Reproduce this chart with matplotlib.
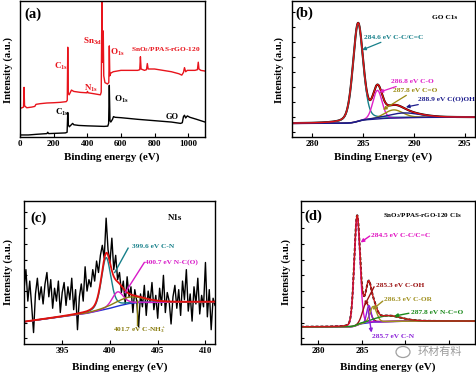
import numpy as np
import matplotlib
matplotlib.use('Agg')
import matplotlib.pyplot as plt
from matplotlib.patches import Ellipse, Rectangle

plt.rcParams['font.family'] = ['Liberation Serif', 'DejaVu Serif']
plt.rcParams['font.weight'] = 'bold'
plt.rcParams['mathtext.default'] = 'regular'

# ---------------- data ----------------
# (a) survey spectra (binding energy, normalized intensity)
a_red_x = [0, 12, 21, 24, 27, 40, 70, 88, 95, 120, 160, 200, 240, 275, 281, 284, 287, 292, 300, 306, 320, 360,
           398, 401, 405, 440, 478, 483, 487, 489, 492, 495, 498, 505, 520, 528, 531, 534, 540, 555, 600, 650,
           700, 712, 716, 720, 740, 752, 757, 762, 800, 850, 900, 945, 962, 972, 978, 985, 995, 1010, 1040,
           1055, 1060, 1064, 1075, 1100]
a_red_y = [0.21, 0.215, 0.22, 0.365, 0.23, 0.215, 0.22, 0.225, 0.24, 0.245, 0.25, 0.252, 0.255, 0.26, 0.27, 0.66,
           0.32, 0.31, 0.33, 0.345, 0.335, 0.328, 0.325, 0.335, 0.325, 0.318, 0.31, 0.33, 1.0, 0.6, 0.55, 0.78,
           0.45, 0.40, 0.39, 0.40, 0.67, 0.45, 0.47, 0.48, 0.49, 0.49, 0.49, 0.495, 0.59, 0.50, 0.49, 0.495,
           0.54, 0.50, 0.50, 0.49, 0.48, 0.465, 0.455, 0.475, 0.51, 0.48, 0.49, 0.49, 0.49, 0.495, 0.55, 0.50,
           0.49, 0.485]
a_blk_x = [0, 50, 100, 160, 165, 170, 230, 270, 280, 284, 287, 293, 305, 313, 320, 350, 400, 450, 500, 522, 527,
           531, 535, 540, 550, 556, 565, 600, 700, 800, 900, 955, 965, 972, 978, 985, 995, 1010, 1050, 1100]
a_blk_y = [0.015, 0.015, 0.02, 0.025, 0.035, 0.025, 0.028, 0.03, 0.035, 0.18, 0.09, 0.075, 0.09, 0.10, 0.09,
           0.085, 0.082, 0.08, 0.078, 0.08, 0.10, 0.38, 0.12, 0.11, 0.13, 0.15, 0.145, 0.142, 0.13, 0.12, 0.11,
           0.10, 0.105, 0.15, 0.16, 0.14, 0.155, 0.145, 0.13, 0.11]
a_ticks = [0, 200, 400, 600, 800, 1000]

# (b) GO C1s fit components
b_labels = ['284.6 eV C-C/C=C', '286.8 eV C-O', '287.8 eV C=O', '288.9 eV C(O)OH']
b_centers = [284.5, 286.4, 288.0, 289.0]
b_heights = [0.72, 0.21, 0.06, 0.035]
b_sigmas = [0.50, 0.45, 0.90, 1.60]
b_eta = [0.3, 0.1, 0.2, 0.2]
b_base = [0.10, 0.145]
b_ticks = [280, 285, 290, 295]

# (c) N1s raw data and fit
c_x0, c_step = 391.0, 0.2
c_raw = [0.38, 0.52, 0.30, 0.44, 0.27, 0.08, 0.35, 0.46, 0.31, 0.40,
         0.28, 0.42, 0.50, 0.33, 0.45, 0.25, 0.39, 0.30, 0.44, 0.22,
         0.36, 0.43, 0.27, 0.40, 0.31, 0.46, 0.24, 0.38, 0.10, 0.33,
         0.42, 0.30, 0.54, 0.37, 0.45, 0.40, 0.52, 0.44, 0.58, 0.50,
         0.62, 0.69, 0.60, 0.88, 0.66, 0.57, 0.74, 0.52, 0.62, 0.45,
         0.50, 0.36, 0.44, 0.28, 0.47, 0.33, 0.40, 0.22, 0.38, 0.30,
         0.12, 0.35, 0.26, 0.41, 0.20, 0.37, 0.29, 0.43, 0.24, 0.34,
         0.18, 0.39, 0.27, 0.48, 0.22, 0.36, 0.30, 0.14, 0.33, 0.41,
         0.25, 0.38, 0.20, 0.44, 0.31, 0.52, 0.23, 0.35, 0.16, 0.40,
         0.28, 0.46, 0.21, 0.34, 0.26, 0.57, 0.19, 0.38, 0.10, 0.32, 0.27]
c_labels = ['399.6 eV C-N', '400.7 eV N-C(O)', '401.7 eV C-NH$_3^+$']
c_centers = [399.6, 400.8, 402.0]
c_heights = [0.36, 0.10, 0.045]
c_sigmas = [0.50, 0.60, 1.60]
c_eta = [0.35, 0.3, 0.4]
# baseline anchors
c_base_x = [391, 397.6, 399, 400, 401, 402, 403, 411]
c_base_y = [0.155, 0.215, 0.235, 0.25, 0.268, 0.283, 0.29, 0.295]
c_ticks = [395, 400, 405, 410]

# (d) SnO2/PPAS-rGO-120 C1s fit
d_labels = ['284.5 eV C-C/C=C', '285.3 eV C-OH', '285.7 eV C-N', '286.3 eV C-OR', '287.8 eV N-C=O']
d_centers = [284.45, 285.5, 285.8, 286.3, 288.0]
d_heights = [0.755, 0.14, 0.12, 0.11, 0.04]
d_sigmas = [0.33, 0.42, 0.25, 0.38, 1.50]
d_eta = [0.1, 0.1, 0.0, 0.1, 0.3]
d_base = [0.12, 0.16]
d_ticks = [280, 285, 290, 295]
d_ticklabels = ['280', '285', '', '']

# ---------------- helpers ----------------
W, H = 476, 374
fig = plt.figure(figsize=(W / 100, H / 100), dpi=100)


def rect(l, t, r, b):
    return [l / W, 1 - b / H, (r - l) / W, (b - t) / H]


def pv(x, c, h, s, eta):
    g = np.exp(-(x - c) ** 2 / (2 * s ** 2))
    lor = 1.0 / (1 + ((x - c) / (1.1774 * s)) ** 2)
    return h * ((1 - eta) * g + eta * lor)


def components(x, centers, heights, sigmas, etas):
    comps = [pv(x, c, h, s, e) for c, h, s, e in zip(centers, heights, sigmas, etas)]
    return comps, np.sum(comps, axis=0)


def shirley(tot, base):
    cum = np.cumsum(tot)
    return base[0] + (base[1] - base[0]) * cum / cum[-1]


def style(ax, xlim, ticks, yticks=True, ticklabels=None):
    ax.set_xlim(*xlim)
    ax.set_ylim(0, 1)
    ax.set_xticks(ticks)
    if ticklabels is not None:
        ax.set_xticklabels(ticklabels)
    ax.tick_params(axis='x', direction='in', length=3, width=0.8, labelsize=6.5, pad=2.5)
    if yticks:
        ax.set_yticks(np.arange(0.04, 1.0, 0.11))
        ax.tick_params(axis='y', direction='in', length=2.5, width=0.8, labelleft=False)
    else:
        ax.set_yticks([])
    for lab in ax.get_xticklabels():
        lab.set_fontweight('bold')
    for sp in ax.spines.values():
        sp.set_linewidth(1.0)


def ftext(x, y, s, **kw):
    fig.text(x / W, 1 - y / H, s, **kw)


XL = dict(fontsize=8, ha='center', va='center')
YL = dict(fontsize=7.6, ha='center', va='center', rotation=90)

# ---------------- panel (a) ----------------
red = '#e8141c'
axA = fig.add_axes(rect(20, 1, 205, 137))
axA.plot(a_blk_x, a_blk_y, color='black', lw=1.0)
axA.plot(a_red_x, a_red_y, color=red, lw=1.0)
style(axA, (0, 1100), a_ticks, yticks=False)
axA.text(77, 0.90, '(a)', fontsize=10.5, ha='center', va='center')
axA.text(431, 0.70, 'Sn$_{3d}$', color=red, fontsize=6.5, ha='center', va='center')
axA.text(577, 0.625, 'O$_{1s}$', color=red, fontsize=6.5, ha='center', va='center')
axA.text(868, 0.64, 'SnO$_2$/PPAS-rGO-120', color=red, fontsize=5.3, ha='center', va='center')
axA.text(244, 0.52, 'C$_{1s}$', color=red, fontsize=6.5, ha='center', va='center')
axA.text(422, 0.36, 'N$_{1s}$', color=red, fontsize=6.5, ha='center', va='center')
axA.text(250, 0.184, 'C$_{1s}$', color='black', fontsize=6.5, ha='center', va='center')
axA.text(600, 0.28, 'O$_{1s}$', color='black', fontsize=6.5, ha='center', va='center')
axA.text(905, 0.147, 'GO', color='black', fontsize=6, ha='center', va='center')
ftext(112, 157, 'Binding energy (eV)', **XL)
ftext(8, 70, 'Intensity (a.u.)', **YL)

# ---------------- panel (b) ----------------
axB = fig.add_axes(rect(292, 1, 475, 137))
xb = np.linspace(278, 296, 600)
comps, tot = components(xb, b_centers, b_heights, b_sigmas, b_eta)
bg = shirley(tot, b_base)
b_cols = ['#17808a', '#e020c8', '#9a8a10', '#1c1c8c']
axB.plot(xb, bg + tot, color='black', lw=1.5)
for cmp, col in zip(comps, b_cols):
    axB.plot(xb, bg + cmp, color=col, lw=1.0)
axB.plot(xb, bg, color='#1c1c8c', lw=1.0)
axB.plot(xb, bg + tot, color='#e01010', lw=1.0)
style(axB, (278, 296), b_ticks)
axB.text(279.2, 0.91, '(b)', fontsize=10.5, ha='center', va='center')
axB.text(293.05, 0.88, 'GO C1s', fontsize=5.3, ha='center', va='center')
b_txt = [(285.1, 0.735), (287.7, 0.41), (287.9, 0.345), (290.4, 0.28)]
b_tip = [(284.9, 0.64), (286.6, 0.33), (286.95, 0.20), (289.2, 0.22)]
for lab, col, (tx, ty), (px, py) in zip(b_labels, b_cols, b_txt, b_tip):
    axB.annotate(lab, xy=(px, py), xytext=(tx, ty), color=col, fontsize=5.3, ha='left', va='center',
                 arrowprops=dict(arrowstyle='-|>', color=col, lw=0.9, mutation_scale=5,
                                 shrinkA=0, shrinkB=0))
ftext(383, 157, 'Binding Energy (eV)', **XL)
ftext(279, 70, 'Intensity (a.u.)', **YL)

# ---------------- panel (c) ----------------
axC = fig.add_axes(rect(24, 201, 215, 344))
xc_raw = c_x0 + c_step * np.arange(len(c_raw))
axC.plot(xc_raw, c_raw, color='black', lw=1.0)
xc = np.linspace(391, 411, 600)
comps, tot = components(xc, c_centers, c_heights, c_sigmas, c_eta)
bg = np.interp(xc, c_base_x, c_base_y)
c_cols = ['#17808a', '#d81bc8', '#8a7d10']
axC.plot(c_base_x, c_base_y, color='#2030d0', lw=1.0)
for cmp, col in zip(comps, c_cols):
    axC.plot(xc, bg + cmp, color=col, lw=1.0)
axC.plot(xc, bg + tot, color='#e01010', lw=1.3)
style(axC, (391, 411), c_ticks)
axC.text(392.5, 0.88, '(c)', fontsize=10.5, ha='center', va='center')
axC.text(406.8, 0.88, 'N1s', fontsize=6.5, ha='center', va='center')
c_txt = [(402.3, 0.68), (403.7, 0.57), (400.3, 0.10)]
c_from = [(401.9, 0.67), (403.6, 0.57), (402.8, 0.13)]
c_tip = [(400.5, 0.50), (401.6, 0.36), (402.8, 0.31)]
for lab, col, (tx, ty), (fx, fy), (px, py) in zip(c_labels, c_cols, c_txt, c_from, c_tip):
    axC.text(tx, ty, lab, color=col, fontsize=5.3, ha='left', va='center')
    axC.plot([fx, px], [fy, py], color=col, lw=1.0)
ftext(120, 367, 'Binding energy (eV)', **XL)
ftext(8, 272, 'Intensity (a.u.)', **YL)

# ---------------- panel (d) ----------------
axD = fig.add_axes(rect(301, 201, 475, 344))
xd = np.linspace(278, 298, 700)
comps, tot = components(xd, d_centers, d_heights, d_sigmas, d_eta)
bg = shirley(tot, d_base)
d_cols = ['#e010c0', '#9b1010', '#8a20d8', '#a09020', '#1b8a1b']
axD.plot(xd, bg + tot, color='black', lw=1.4, ls=(0, (1.5, 1)))
axD.plot(xd, bg, color='#2030d0', lw=1.0)
for cmp, col in zip(comps, d_cols):
    axD.plot(xd, bg + cmp, color=col, lw=1.0)
axD.plot(xd, bg + tot, color='#c81818', lw=1.0)
style(axD, (278, 298), d_ticks, ticklabels=d_ticklabels)
axD.text(279.4, 0.89, '(d)', fontsize=10.5, ha='center', va='center')
axD.text(292.0, 0.895, 'SnO$_2$/PPAS-rGO-120 C1s', fontsize=5.0, ha='center', va='center')
d_txt = [(286.05, 0.76), (286.6, 0.41), (286.2, 0.05), (287.5, 0.31), (290.6, 0.22)]
d_from = [(285.9, 0.755), (286.4, 0.40), (285.7, 0.245), (287.4, 0.30), (290.4, 0.215)]
d_tip = [(284.85, 0.71), (285.3, 0.27), (286.1, 0.08), (286.2, 0.24), (288.7, 0.195)]
for lab, col, (tx, ty), (fx, fy), (px, py) in zip(d_labels, d_cols, d_txt, d_from, d_tip):
    axD.text(tx, ty, lab, color=col, fontsize=5.3, ha='left', va='center')
    axD.annotate('', xy=(px, py), xytext=(fx, fy),
                 arrowprops=dict(arrowstyle='-|>', color=col, lw=1.0, mutation_scale=5, shrinkA=0, shrinkB=0))
ftext(388, 367, 'Binding energy (eV)', **XL)
ftext(286, 272, 'Intensity (a.u.)', **YL)

# watermark
ftext(440, 352, '环材有料', fontsize=8, color='#9a9a9a', ha='center', va='center',
      family=['Noto Sans CJK SC', 'DejaVu Sans'], fontweight='normal')
fig.patches.append(Ellipse((403 / W, 1 - 352 / H), 14 / W, 11 / H, transform=fig.transFigure,
                           fill=False, ec='#a0a0a0', lw=0.9))

fig.savefig('out.png', dpi=100)
